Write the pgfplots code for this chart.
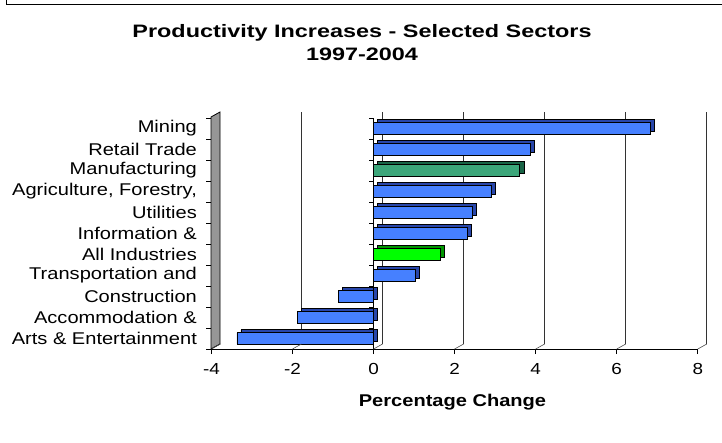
\documentclass[border=0pt]{standalone}
\usepackage{pgfplots}
\pgfplotsset{compat=1.18}
\usepackage{fontspec}
\setmainfont{Liberation Sans}[FakeStretch=1.18]
\newfontfamily\titlefont{Liberation Sans}[FakeStretch=1.3]
\definecolor{barblue}{RGB}{70,128,255}
\definecolor{barblueD}{RGB}{40,70,170}
\definecolor{bargreen}{RGB}{60,166,122}
\definecolor{bargreenD}{RGB}{25,100,70}
\definecolor{barlime}{RGB}{0,255,0}
\definecolor{barlimeD}{RGB}{0,150,0}
\definecolor{wallgray}{RGB}{150,150,150}
\begin{document}
\begin{tikzpicture}[x=1pt,y=1pt]
\path[use as bounding box] (0,0) rectangle (722,442);
% frame
\draw[line width=1.5pt] (6.5,442) -- (6.5,437.5) -- (722,437.5);
% title
\node[font=\titlefont\bfseries\fontsize{18}{23}\selectfont, align=center] at (362,399.5) {Productivity Increases - Selected Sectors\\1997-2004};
% left wall
\fill[wallgray] (211,93) -- (211,325) -- (220,330) -- (220,98) -- cycle;
\draw[black, line width=0.8pt] (211,93) -- (211,325) -- (220,330) -- (220,98) -- cycle;
% back plane grid
\begin{axis}[
  at={(220pt,98pt)}, anchor=south west, scale only axis,
  width=486.4pt, height=232pt,
  xmin=-4, xmax=8, ymin=0, ymax=1,
  axis line style={draw=none},
  xtick={-2,0,...,8}, ytick=\empty,
  xticklabels={},
  xmajorgrids, major grid style={black!80, line width=0.7pt},
  major tick length=0pt,
]
\addplot[draw=none] coordinates {(0,0)};
\end{axis}
% front axis with bars
\begin{axis}[
  at={(211.4pt,93pt)}, anchor=south west, scale only axis,
  width=486.4pt, height=231pt,
  xmin=-4, xmax=8, ymin=-0.5, ymax=10.5,
  axis x line*=bottom, axis y line*=left,
  x axis line style={black, line width=0.8pt, -},
  y axis line style={draw=none},
  xtick={-4,-2,...,8},
  ytick={0,...,10},
  yticklabels={Arts \& Entertainment, Accommodation \&, Construction, Transportation and, All Industries, Information \&, Utilities, {Agriculture, Forestry,}, Manufacturing, Retail Trade, Mining},
  tick align=outside,
  major tick length=5pt,
  ytick style={draw=none},
  xtick style={black, line width=0.8pt},
  yticklabel style={font=\fontsize{17}{20}\selectfont, anchor=east, xshift=-6pt},
  xticklabel style={font=\fontsize{16}{19}\selectfont, yshift=-6pt},
  /pgf/number format/assume math mode=true,
  clip=false,
  xbar, bar width=11.5pt,
]
% shadows (3D depth)
\addplot[xbar, bar shift=0pt, fill=barblueD, draw=black, line width=0.6pt, xshift=4pt, yshift=3pt]
  coordinates {(-3.37,0) (-1.87,1) (-0.86,2) (1.03,3) (2.32,5) (2.44,6) (2.91,7) (3.87,9) (6.83,10)};
\addplot[xbar, bar shift=0pt, fill=bargreenD, draw=black, line width=0.6pt, xshift=4pt, yshift=3pt]
  coordinates {(3.61,8)};
\addplot[xbar, bar shift=0pt, fill=barlimeD, draw=black, line width=0.6pt, xshift=4pt, yshift=3pt]
  coordinates {(1.65,4)};
% front faces
\addplot[xbar, bar shift=0pt, fill=barblue, draw=black, line width=0.8pt]
  coordinates {(-3.37,0) (-1.87,1) (-0.86,2) (1.03,3) (2.32,5) (2.44,6) (2.91,7) (3.87,9) (6.83,10)};
\addplot[xbar, bar shift=0pt, fill=bargreen, draw=black, line width=0.8pt]
  coordinates {(3.61,8)};
\addplot[xbar, bar shift=0pt, fill=barlime, draw=black, line width=0.8pt]
  coordinates {(1.65,4)};
% zero line with ticks, wall ticks
\draw[black, line width=0.9pt] (axis cs:0,-0.5) -- (axis cs:0,10.5);
\foreach \yy in {-0.5,0.5,...,10.5} {
  \edef\tmp{\noexpand\draw[black, line width=0.9pt] (axis cs:0,\yy) -- ++(-5pt,0pt);
    \noexpand\draw[black, line width=0.9pt] (axis cs:-4,\yy) -- ++(-5pt,0pt);}
  \tmp
}
% floor diagonals
\foreach \xx in {-4,-2,...,8} {
  \edef\tmp{\noexpand\draw[black!70, line width=0.6pt] (axis cs:\xx,-0.5) -- ++(9pt,5pt);}
  \tmp
}
\end{axis}
% x label
\node[font=\bfseries\fontsize{17}{20}\selectfont] at (452.5,40) {Percentage Change};
\end{tikzpicture}
\end{document}
